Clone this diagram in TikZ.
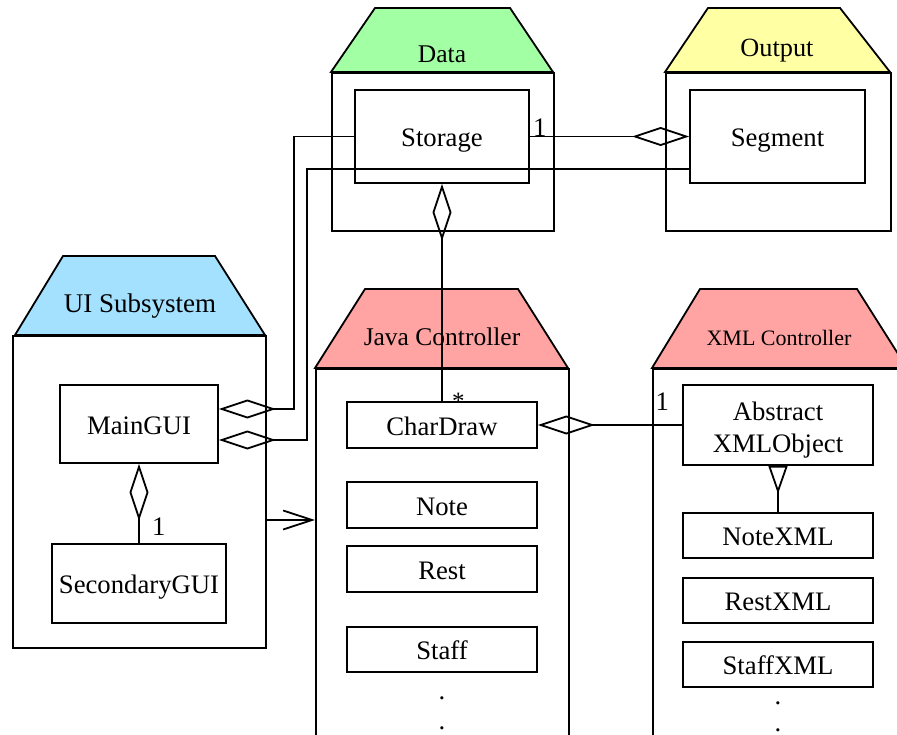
\documentclass[tikz,border=0pt]{standalone}
\usepackage{fontspec}
\setmainfont{Liberation Serif}
\usetikzlibrary{arrows.meta,calc}
\definecolor{datagreen}{HTML}{A3FFA3}
\definecolor{outyellow}{HTML}{FFFFA3}
\definecolor{uiblue}{HTML}{A3E1FF}
\definecolor{ctrlred}{HTML}{FFA3A3}
\newcommand{\clsfont}{\fontsize{26.7}{33}\selectfont}
\newcommand{\hdrfont}{\fontsize{25.5}{30}\selectfont}
\newcommand{\xmlfont}{\fontsize{22}{26}\selectfont}
\tikzset{
  ln/.style={line width=1.8pt},
  cls/.style={draw, ln, inner sep=0pt, font=\clsfont, text height=20pt, text depth=0pt},
  pkgbody/.style={draw, ln, inner sep=0pt, anchor=north west},
  hdr/.style={draw, ln, line join=miter},
  hdrlabel/.style={anchor=base, inner sep=0pt, font=\hdrfont},
  mult/.style={inner sep=0pt, font=\clsfont, anchor=base},
  aggr/.style={ln, -{Diamond[open, length=57pt, width=19pt, line width=1.8pt]}},
  gen/.style={ln, -{Triangle[open, reversed, length=28pt, width=19pt, line width=1.8pt]}},
  dep/.style={ln, -{Straight Barb[length=29pt, width=19pt, line width=1.8pt]}},
  dotlabel/.style={inner sep=0pt, font=\clsfont, anchor=base}
}
\begin{document}
\begin{tikzpicture}[x=1pt, y=-1pt]
\clip (0,0) rectangle (897,735);
\fill[white] (0,0) rectangle (897,735);

% package bodies
\node[pkgbody, minimum width=222pt, minimum height=158pt] (databody) at (331,72) {};
\node[pkgbody, minimum width=225pt, minimum height=158pt] (outbody) at (665,72) {};
\node[pkgbody, minimum width=253pt, minimum height=312pt] (uibody) at (12,335) {};
\node[pkgbody, minimum width=253pt, minimum height=390pt] (javabody) at (315,368) {};
\node[pkgbody, minimum width=260pt, minimum height=390pt] (xmlbody) at (652,368) {};

% package headers
\filldraw[hdr, fill=datagreen] (331,72) -- (375,8) -- (510,8) -- (553,72) -- cycle;
\filldraw[hdr, fill=outyellow] (665,72) -- (708,8) -- (840,8) -- (890,72) -- cycle;
\filldraw[hdr, fill=uiblue] (15,335) -- (63,256) -- (215,256) -- (265,335) -- cycle;
\filldraw[hdr, fill=ctrlred] (315,368) -- (365,289) -- (518,289) -- (568,368) -- cycle;
\filldraw[hdr, fill=ctrlred] (652,368) -- (700,289) -- (857,289) -- (907,368) -- cycle;

\node[hdrlabel] (datalbl) at (442,63) {Data};
\node[hdrlabel, font=\fontsize{26.3}{30}\selectfont] (outlbl) at (777,57) {Output};
\node[hdrlabel, font=\fontsize{27}{30}\selectfont] (uilbl) at (140,313) {UI Subsystem};
\node[hdrlabel] (javalbl) at (442,345) {Java Controller};
\node[hdrlabel, font=\xmlfont] (xmllbl) at (779,345) {XML Controller};

% classes
\node[cls, minimum width=174pt, minimum height=93pt] (storage) at (442,136.5) {Storage};
\node[cls, minimum width=175pt, minimum height=93pt] (segment) at (777.5,136.5) {Segment};
\node[cls, minimum width=158pt, minimum height=78pt] (maingui) at (139,424) {MainGUI};
\node[cls, minimum width=174pt, minimum height=79pt] (secgui) at (139,583.5) {SecondaryGUI};
\node[cls, minimum width=190pt, minimum height=46pt] (chardraw) at (442,425) {CharDraw};
\node[cls, minimum width=190pt, minimum height=46pt] (note) at (442,505) {Note};
\node[cls, minimum width=190pt, minimum height=46pt] (rest) at (442,569) {Rest};
\node[cls, minimum width=190pt, minimum height=45pt] (staff) at (442,649.5) {Staff};
\node[draw, ln, inner sep=0pt, minimum width=190pt, minimum height=80pt] (abstract) at (778,425) {};
\node[inner sep=0pt, font=\clsfont, anchor=base] (abs1) at (778,420) {Abstract};
\node[inner sep=0pt, font=\clsfont, anchor=base] (abs2) at (778,452) {XMLObject};
\node[cls, minimum width=190pt, minimum height=45pt] (notexml) at (778,535.5) {NoteXML};
\node[cls, minimum width=190pt, minimum height=45pt] (restxml) at (778,600.5) {RestXML};
\node[cls, minimum width=190pt, minimum height=45pt] (staffxml) at (778,664.5) {StaffXML};

% continuation dots
\node[dotlabel] (jd1) at (442,699) {.};
\node[dotlabel] (jd2) at (442,729) {.};
\node[dotlabel] (xd1) at (778,704) {.};
\node[dotlabel] (xd2) at (778,731) {.};

% connectors
\draw[aggr] (storage.east) -- (segment.west);
\draw[aggr] (storage.west) -| ($(maingui.east)+(75,-15)$) -- ($(maingui.east)+(0,-15)$);
\draw[aggr] ($(segment.west)+(0,32.5)$) -| ($(maingui.east)+(88,16)$) -- ($(maingui.east)+(0,16)$);
\draw[aggr] (chardraw.north) -- (storage.south);
\draw[aggr] (abstract.west) -- (chardraw.east);
\draw[aggr] (secgui.north) -- (maingui.south);
\draw[gen] (notexml.north) -- (abstract.south);
\draw[dep] (uibody.east |- 0,520) -- (javabody.west |- 0,520);

% multiplicities
\node[mult, anchor=base west] (m1) at ($(storage.east)+(3,0)$) {1};
\node[mult, anchor=base east] (m2) at ($(abstract.west)+(-13,-15)$) {1};
\node[mult, anchor=base west] (m3) at ($(secgui.north)+(13,-8)$) {1};
\node[inner sep=0pt, font=\fontsize{25}{28}\selectfont, anchor=base west] (m4) at ($(chardraw.north)+(10,8)$) {*};
\end{tikzpicture}
\end{document}
